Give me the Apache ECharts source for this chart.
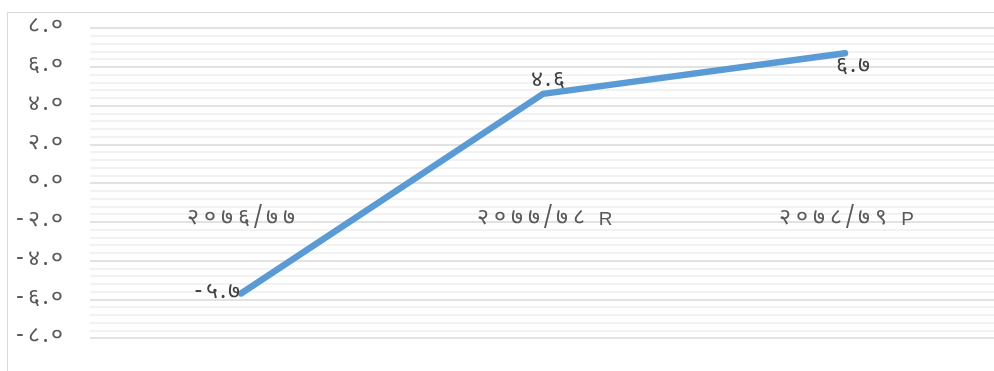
<!DOCTYPE html>
<html><head><meta charset="utf-8">
<script src="https://cdn.jsdelivr.net/npm/echarts@6/dist/echarts.min.js"></script>
<style>html,body{margin:0;padding:0;background:#fff}#c{width:994px;height:371px}</style>
</head><body><div id="c"></div>
<script>
const categories = ['२०७६/७७', '२०७७/७८ R', '२०७८/७९ P'];
const values = [-5.7, 4.6, 6.7];
const valueLabels = ['-५.७', '४.६', '६.७'];
const labelPositions = ['left', 'top', 'bottom'];
const labelOffsets = [[4, 0], [5, 3], [8, 0]];
const yMin = -8, yMax = 8, yInterval = 2;

const devDigits = '०१२३४५६७८९';
function toDev(s){ return String(s).replace(/[0-9]/g, d => devDigits[+d]); }

// spread glyphs like the reference's wide font
function spaced(str){
  return Array.from(str).map(ch => {
    let k = 'd';
    if (ch === '.') k = 'p';
    else if (ch === '/') k = 's';
    else if (ch === '-') k = 'm';
    else if (ch === ' ') k = 'b';
    else if (/[A-Za-z]/.test(ch)) k = 'l';
    return '{' + k + '|' + ch + '}';
  }).join('');
}
const font = '"Noto Sans Devanagari","Nirmala UI","Mangal","Noto Sans","DejaVu Sans",sans-serif';
function richSet(color, size, dw){
  const base = {color:color, fontSize:size, fontFamily:font, align:'center'};
  return {
    d: Object.assign({}, base, {width:dw}),
    p: Object.assign({}, base, {width:7}),
    s: Object.assign({}, base, {width:11}),
    m: Object.assign({}, base, {width:12}),
    b: Object.assign({}, base, {width:12}),
    l: Object.assign({}, base, {width:12, fontFamily:'"Liberation Sans","DejaVu Sans",sans-serif', fontSize:size-4})
  };
}

const chart = echarts.init(document.getElementById('c'), null, {renderer:'canvas'});
chart.setOption({
  animation:false,
  backgroundColor:'#fff',
  graphic:[{type:'rect', shape:{x:7.5,y:12.5,width:1000,height:400}, style:{fill:'none',stroke:'#d9d9d9',lineWidth:1}, silent:true}],
  grid:{left:90, top:28, width:906, height:310, containLabel:false, outerBoundsMode:'none'},
  xAxis:{
    type:'category', data:categories, boundaryGap:true, position:'bottom', offset:-155,
    axisLine:{show:false, onZero:false}, axisTick:{show:false},
    axisLabel:{margin:25, formatter:v => spaced(v), rich:richSet('#595959', 23, 17)},
    splitLine:{show:false}
  },
  yAxis:{
    type:'value', min:yMin, max:yMax, interval:yInterval,
    axisLine:{show:false}, axisTick:{show:false},
    axisLabel:{margin:25, formatter:v => spaced((v<0?'-':'') + toDev(Math.abs(v).toFixed(1))),
      rich:richSet('#595959', 23, 16)},
    splitLine:{show:true, lineStyle:{color:'#d9d9d9', width:1.5}},
    minorTick:{show:false, splitNumber:5},
    minorSplitLine:{show:true, lineStyle:{color:'#eeeeee', width:1.5}}
  },
  series:[{
    type:'line', data:values.map((v,i)=>({value:v, label:{position:labelPositions[i], offset:labelOffsets[i]}})),
    showSymbol:true, symbol:'circle', symbolSize:1,
    lineStyle:{color:'#5b9bd5', width:6.5, cap:'round', join:'round'},
    itemStyle:{color:'#5b9bd5'},
    label:{show:true, formatter:p => spaced(valueLabels[p.dataIndex]), distance:3,
      rich:richSet('#404040', 23, 15)}
  }]
});
</script></body></html>
